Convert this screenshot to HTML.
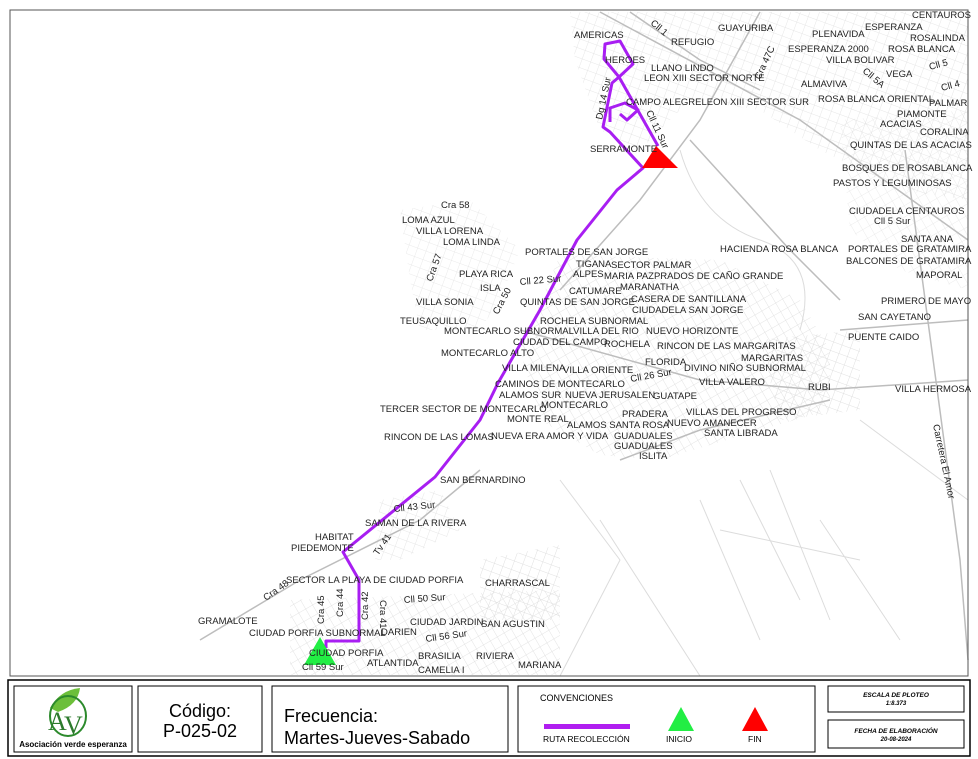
<!DOCTYPE html>
<html><head><meta charset="utf-8"><style>
body{margin:0;width:978px;height:759px;background:#fff;overflow:hidden;font-family:"Liberation Sans",sans-serif}
svg{position:absolute;left:0;top:0}
.l{font-family:"Liberation Sans",sans-serif;font-size:9.5px;fill:#222}
</style></head><body>
<svg width="978" height="759" viewBox="0 0 978 759">
<defs>
<pattern id="g" width="9" height="9" patternUnits="userSpaceOnUse" patternTransform="rotate(20)">
<path d="M0 0H9M0 0V9" stroke="#d8d8d8" stroke-width="0.8" fill="none"/>
</pattern>
<pattern id="g2" width="8" height="10" patternUnits="userSpaceOnUse" patternTransform="rotate(-30)">
<path d="M0 0H8M0 0V10" stroke="#dcdcdc" stroke-width="0.8" fill="none"/>
</pattern>
</defs>
<path d="M570 12 L968 12 L968 200 L900 190 L820 150 L760 110 L690 100 L640 150 L600 130 L575 60Z" fill="url(#g)" opacity="0.8"/>
<path d="M560 255 L720 260 L800 300 L830 350 L830 410 L760 430 L660 460 L600 455 L540 420 L520 350 Z" fill="url(#g2)"/>
<path d="M400 210 L470 200 L520 250 L500 300 L480 330 L420 330 L410 280Z" fill="url(#g)" opacity="0.7"/>
<path d="M290 600 L560 590 L560 675 L290 675Z" fill="url(#g2)"/>
<path d="M480 560 L560 545 L560 620 L480 620Z" fill="url(#g)"/>
<path d="M380 500 L440 490 L460 530 L400 560 L375 560Z" fill="url(#g)" opacity="0.8"/>
<path d="M840 120 L968 110 L968 290 L900 270 L850 230Z" fill="url(#g2)" opacity="0.7"/>
<path d="M760 340 L860 330 L860 410 L780 420Z" fill="url(#g)"/>
<g stroke="#bdbdbd" stroke-width="1.5" fill="none">
<path d="M600 12 L800 120 L968 240"/>
<path d="M760 12 L700 120 L640 200 L560 290"/>
<path d="M905 150 L960 560 L968 660"/>
<path d="M200 640 L300 580 L420 520 L480 470"/>
<path d="M690 140 L790 250 L840 300"/>
<path d="M520 330 L700 380 L820 390 L968 380"/>
<path d="M620 460 L700 430 L830 400"/>
<path d="M630 12 L700 60 L760 90"/>
<path d="M840 330 L968 320"/>
</g>
<g stroke="#dcdcdc" stroke-width="1" fill="none">
<path d="M740 480 L800 600 M770 470 L830 620 M700 500 L760 640 M860 420 L968 500 M600 520 L700 676 M560 480 L620 560 L560 676 M720 530 L860 560 M820 520 L900 640"/>
<path d="M680 150 Q700 220 760 240 T800 330"/>
</g>
<rect x="10" y="10" width="958" height="666" fill="none" stroke="#555" stroke-width="1"/>
<g stroke="#a81ef2" stroke-width="3" fill="none" stroke-linejoin="round">
<path d="M326 648 L326 641 L359 641 L359 580 L343 552 L435 477 L480 420 L498 383 L540 310 L577 240 L617 190 L643 168 L610 132 L603 127 L612 83 L619 77 L658 146"/>
<path d="M619 77 L633 64 L620 41 L605 44 L604 59 L619 77"/>
<path d="M610 122 L610 108 L625 103 L638 110 L627 120 L620 114"/>
</g>
<polygon points="656,146 642,168 678,168" fill="#ff0000"/>
<polygon points="320,637 304,665 336,665" fill="#22ee44"/>
<g class="l">
<text x="912" y="18">CENTAUROS</text><text x="865" y="30">ESPERANZA</text><text x="910" y="41">ROSALINDA</text>
<text x="812" y="37">PLENAVIDA</text><text x="718" y="31">GUAYURIBA</text><text x="671" y="45">REFUGIO</text>
<text x="574" y="38">AMERICAS</text><text x="605" y="63">HEROES</text><text x="651" y="71">LLANO LINDO</text>
<text x="644" y="81">LEON XIII SECTOR NORTE</text><text x="788" y="52">ESPERANZA 2000</text><text x="888" y="52">ROSA BLANCA</text>
<text x="826" y="63">VILLA BOLIVAR</text><text x="886" y="77">VEGA</text><text x="801" y="87">ALMAVIVA</text>
<text x="626" y="105">CAMPO ALEGRELEON XIII SECTOR SUR</text><text x="818" y="102">ROSA BLANCA ORIENTAL</text><text x="929" y="106">PALMAR</text>
<text x="897" y="117">PIAMONTE</text><text x="880" y="127">ACACIAS</text><text x="920" y="135">CORALINA</text>
<text x="850" y="148">QUINTAS DE LAS ACACIAS</text><text x="590" y="152">SERRAMONTE</text>
<text x="842" y="171">BOSQUES DE ROSABLANCA</text><text x="833" y="186">PASTOS Y LEGUMINOSAS</text>
<text x="849" y="214">CIUDADELA CENTAUROS</text><text x="874" y="224">Cll 5 Sur</text><text x="901" y="242">SANTA ANA</text>
<text x="720" y="252">HACIENDA ROSA BLANCA</text><text x="848" y="252">PORTALES DE GRATAMIRA</text><text x="846" y="264">BALCONES DE GRATAMIRA</text>
<text x="916" y="278">MAPORAL</text><text x="881" y="304">PRIMERO DE MAYO</text><text x="858" y="320">SAN CAYETANO</text>
<text x="848" y="340">PUENTE CAIDO</text><text x="808" y="390">RUBI</text><text x="895" y="392">VILLA HERMOSA</text>
<text transform="translate(650,24) rotate(40)">Cll 1</text>
<text transform="translate(760,80) rotate(-65)">Cra 47C</text>
<text transform="translate(862,72) rotate(40)">Cll 5A</text>
<text transform="translate(930,70) rotate(-15)">Cll 5</text>
<text transform="translate(942,91) rotate(-15)">Cll 4</text>
<text transform="translate(602,120) rotate(-78)">Dg 14 Sur</text>
<text transform="translate(646,112) rotate(65)">Cll 11 Sur</text>
<text transform="translate(933,425) rotate(78)">Carretera El Amor</text>
<text x="441" y="208">Cra 58</text><text x="402" y="223">LOMA AZUL</text><text x="416" y="234">VILLA LORENA</text>
<text x="443" y="245">LOMA LINDA</text><text transform="translate(432,282) rotate(-70)">Cra 57</text>
<text x="525" y="255">PORTALES DE SAN JORGE</text><text x="576" y="267">TIGANA</text><text x="611" y="268">SECTOR PALMAR</text>
<text x="573" y="277">ALPES</text><text x="604" y="279">MARIA PAZPRADOS DE CAÑO GRANDE</text>
<text x="459" y="277">PLAYA RICA</text><text transform="translate(520,285) rotate(-5)">Cll 22 Sur</text><text x="480" y="291">ISLA</text>
<text x="569" y="294">CATUMARE</text><text x="620" y="290">MARANATHA</text>
<text transform="translate(498,315) rotate(-62)">Cra 50</text>
<text x="416" y="305">VILLA SONIA</text><text x="520" y="305">QUINTAS DE SAN JORGE</text><text x="631" y="302">CASERA DE SANTILLANA</text>
<text x="632" y="313">CIUDADELA SAN JORGE</text><text x="400" y="324">TEUSAQUILLO</text><text x="540" y="324">ROCHELA SUBNORMAL</text>
<text x="444" y="334">MONTECARLO SUBNORMALVILLA DEL RIO</text><text x="646" y="334">NUEVO HORIZONTE</text>
<text x="513" y="345">CIUDAD DEL CAMPO</text><text x="604" y="347">ROCHELA</text><text x="657" y="349">RINCON DE LAS MARGARITAS</text>
<text x="441" y="356">MONTECARLO ALTO</text><text x="741" y="361">MARGARITAS</text>
<text x="645" y="365">FLORIDA</text><text x="684" y="371">DIVINO NIÑO SUBNORMAL</text>
<text x="502" y="371">VILLA MILENA</text><text x="563" y="373">VILLA ORIENTE</text>
<text transform="translate(631,382) rotate(-10)">Cll 26 Sur</text><text x="699" y="385">VILLA VALERO</text>
<text x="495" y="387">CAMINOS DE MONTECARLO</text><text x="499" y="398">ALAMOS SUR</text><text x="565" y="398">NUEVA JERUSALEN</text>
<text x="653" y="399">GUATAPE</text><text x="380" y="412">TERCER SECTOR DE MONTECARLO</text><text x="541" y="408">MONTECARLO</text>
<text x="686" y="415">VILLAS DEL PROGRESO</text><text x="622" y="417">PRADERA</text><text x="507" y="422">MONTE REAL</text>
<text x="567" y="428">ALAMOS SANTA ROSA</text><text x="667" y="426">NUEVO AMANECER</text><text x="704" y="436">SANTA LIBRADA</text>
<text x="384" y="440">RINCON DE LAS LOMAS</text><text x="491" y="439">NUEVA ERA AMOR Y VIDA</text>
<text x="614" y="439">GUADUALES</text><text x="614" y="449">GUADUALES</text><text x="639" y="459">ISLITA</text>
<text x="440" y="483">SAN BERNARDINO</text>
<text transform="translate(394,512) rotate(-6)">Cll 43 Sur</text><text x="365" y="526">SAMAN DE LA RIVERA</text>
<text x="315" y="540">HABITAT</text><text x="291" y="551">PIEDEMONTE</text>
<text transform="translate(378,556) rotate(-55)">Tv 41</text>
<text x="286" y="583">SECTOR LA PLAYA DE CIUDAD PORFIA</text><text x="485" y="586">CHARRASCAL</text>
<text transform="translate(266,601) rotate(-35)">Cra 48</text>
<text transform="translate(324,624) rotate(-90)">Cra 45</text>
<text transform="translate(343,617) rotate(-90)">Cra 44</text>
<text transform="translate(368,620) rotate(-90)">Cra 42</text>
<text transform="translate(380,600) rotate(90)">Cra 41</text>
<text transform="translate(404,603) rotate(-4)">Cll 50 Sur</text>
<text x="198" y="624">GRAMALOTE</text><text x="410" y="625">CIUDAD JARDIN</text><text x="481" y="627">SAN AGUSTIN</text>
<text x="249" y="636">CIUDAD PORFIA SUBNORMAL</text><text x="381" y="635">DARIEN</text>
<text transform="translate(426,642) rotate(-8)">Cll 56 Sur</text>
<text x="309" y="656">CIUDAD PORFIA</text><text x="418" y="659">BRASILIA</text><text x="476" y="659">RIVIERA</text>
<text x="367" y="666">ATLANTIDA</text><text x="302" y="670">Cll 59 Sur</text><text x="518" y="668">MARIANA</text><text x="418" y="673">CAMELIA I</text>
</g>
<rect x="8" y="680" width="962" height="76" fill="#fff" stroke="#000" stroke-width="1.5"/>
<rect x="14" y="686" width="118" height="66" fill="none" stroke="#000" stroke-width="1"/>
<rect x="138" y="686" width="124" height="66" fill="none" stroke="#000" stroke-width="1"/>
<rect x="272" y="686" width="236" height="66" fill="none" stroke="#000" stroke-width="1"/>
<rect x="518" y="686" width="297" height="66" fill="none" stroke="#000" stroke-width="1"/>
<rect x="828" y="686" width="136" height="26" fill="none" stroke="#000" stroke-width="1"/>
<rect x="828" y="720" width="136" height="28" fill="none" stroke="#000" stroke-width="1"/>
<path d="M50 708 Q60 690 80 688 Q78 705 58 712Z" fill="#6cbf3a"/>
<ellipse cx="68" cy="716" rx="18" ry="20" fill="none" stroke="#2c8a2c" stroke-width="2"/>
<text x="48" y="730" font-family="Liberation Serif,serif" font-size="26" fill="#2c7a2c">A</text>
<text x="64" y="734" font-family="Liberation Serif,serif" font-size="26" fill="#2c7a2c">V</text>
<text x="73" y="747" text-anchor="middle" font-family="Liberation Sans,sans-serif" font-size="8" font-weight="bold" fill="#000">Asociación verde esperanza</text>
<text x="200" y="717" text-anchor="middle" font-size="18" fill="#000" font-family="Liberation Sans,sans-serif">Código:</text>
<text x="200" y="737" text-anchor="middle" font-size="18" fill="#000" font-family="Liberation Sans,sans-serif">P-025-02</text>
<text x="284" y="722" font-size="18" fill="#000" font-family="Liberation Sans,sans-serif">Frecuencia:</text>
<text x="284" y="744" font-size="18" fill="#000" font-family="Liberation Sans,sans-serif">Martes-Jueves-Sabado</text>
<text x="540" y="701" font-size="9" fill="#000" font-family="Liberation Sans,sans-serif">CONVENCIONES</text>
<rect x="544" y="724" width="86" height="5" fill="#b01ef0"/>
<text x="543" y="742" font-size="8.5" fill="#000" font-family="Liberation Sans,sans-serif">RUTA RECOLECCIÓN</text>
<polygon points="681,707 668,731 694,731" fill="#22ee44"/>
<text x="666" y="742" font-size="8.5" fill="#000" font-family="Liberation Sans,sans-serif">INICIO</text>
<polygon points="755,707 742,731 768,731" fill="#ff0000"/>
<text x="748" y="742" font-size="8.5" fill="#000" font-family="Liberation Sans,sans-serif">FIN</text>
<text x="896" y="697" text-anchor="middle" font-size="6.5" font-weight="bold" font-style="italic" font-family="Liberation Sans,sans-serif">ESCALA DE PLOTEO</text>
<text x="896" y="705" text-anchor="middle" font-size="6" font-weight="bold" font-style="italic" font-family="Liberation Sans,sans-serif">1:8.373</text>
<text x="896" y="733" text-anchor="middle" font-size="6.5" font-weight="bold" font-style="italic" font-family="Liberation Sans,sans-serif">FECHA DE ELABORACIÓN</text>
<text x="896" y="741" text-anchor="middle" font-size="6" font-weight="bold" font-style="italic" font-family="Liberation Sans,sans-serif">20-08-2024</text>
</svg>
</body></html>
